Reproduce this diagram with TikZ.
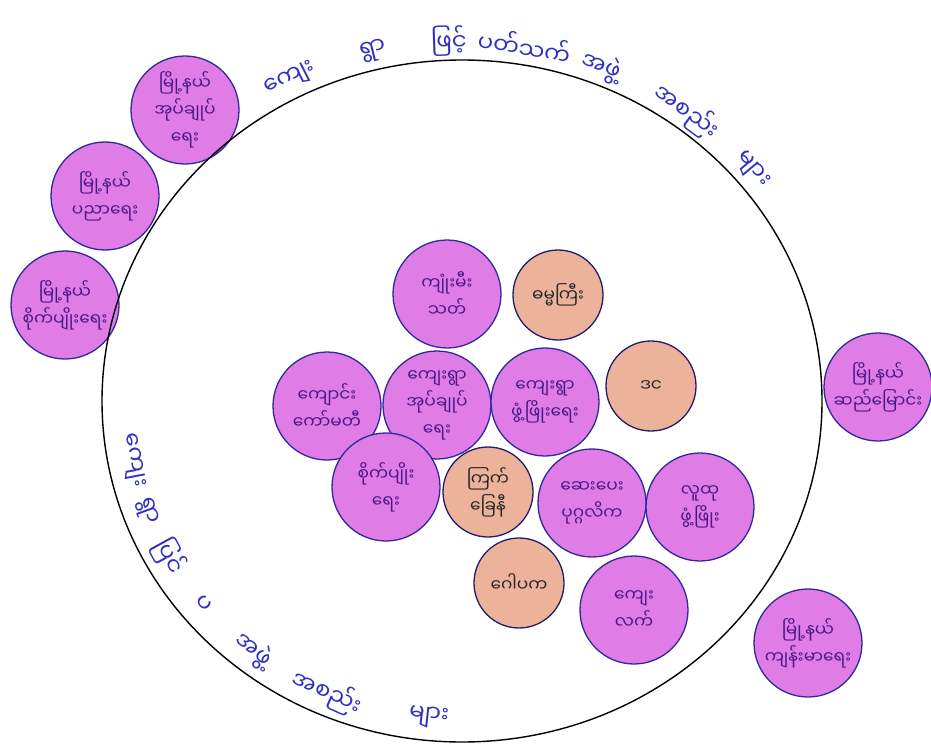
\documentclass[tikz,border=0pt]{standalone}
\usepackage{fontspec}
\usepackage{xcolor}
\usepackage{tikz}
\usetikzlibrary{
    shapes.geometric,
    positioning,
    calc
}
\newfontfamily\myan[Script=Myanmar]{Noto Sans Myanmar UI}
\definecolor{venpink}{HTML}{E07CE6}
\definecolor{venpeach}{HTML}{EDB39A}
\definecolor{venline}{HTML}{2E2A9C}
\definecolor{veninkp}{HTML}{4A1787}
\definecolor{venarc}{HTML}{3030C0}
\tikzset{
    % Organisation circle (pink marker)
    orgnode/.style={
        circle,
        draw=venline,
        line width=1.3pt,
        fill=#1,
        text=veninkp,
        font=\myan\fontsize{17}{27}\selectfont,
        minimum size=108pt,
        inner sep=0pt,
        align=center
    },
    orgnode/.default=venpink,
    % Small peach circle
    peachnode/.style={
        orgnode=venpeach,
        draw=venline!70!black,
        text=black!85,
        minimum size=90pt
    },
    % Word written along the big circle
    arcword/.style={
        font=\myan\fontsize{23}{26}\selectfont,
        text=venarc,
        inner sep=0pt
    }
}
\begin{document}
\begin{tikzpicture}[x=1pt, y=-1pt]

    \useasboundingbox (0,0) rectangle (931,746);

    % Township circles (outside)
    \node[orgnode] (twnadmin) at (185,110) {မြို့နယ်\\အုပ်ချုပ်\\ရေး};
    \node[orgnode] (twnedu) at (105,196) {မြို့နယ်\\ပညာရေး};
    \node[orgnode] (twnagri) at (65,305) {မြို့နယ်\\စိုက်ပျိုးရေး};
    \node[orgnode] (twnirrig) at (878,387) {မြို့နယ်\\ဆည်မြောင်း};
    \node[orgnode] (twnhealth) at (808,643) {မြို့နယ်\\ကျန်းမာရေး};

    % Village circles (inside)
    \node[orgnode] (fire) at (447,294) {ကျုံးမီး\\သတ်};
    \node[peachnode] (dhamma) at (558,295) {ဓမ္မကြီး};
    \node[orgnode] (schoolcom) at (327,406) {ကျောင်း\\ကော်မတီ};
    \node[orgnode] (vadmin) at (437,405) {ကျေးရွာ\\အုပ်ချုပ်\\ရေး};
    \node[orgnode] (vdev) at (545,402) {ကျေးရွာ\\ဖွံ့ဖြိုးရေး};
    \node[peachnode] (dinc) at (651,386) {ဒင};
    \node[orgnode] (agri) at (386,487) {စိုက်ပျိုး\\ရေး};
    \node[peachnode] (redcross) at (488,492) {ကြက်\\ခြေနီ};
    \node[orgnode] (clinic) at (592,503) {ဆေးပေး\\ပုဂ္ဂလိက};
    \node[orgnode] (commdev) at (700,507) {လူထု\\ဖွံ့ဖြိုး};
    \node[peachnode] (gopaka) at (519,583) {ဂေါပက};
    \node[orgnode] (rural) at (634,610) {ကျေး\\လက်};

    % Village boundary
    \draw[line width=1.4pt] (462,401) ellipse [x radius=360pt, y radius=341pt];

    % Upper arc words
    \node[arcword, rotate=26.9] (toparc1) at ({462+378*cos(116.9)},{401-360*sin(116.9)}) {ကျေး};
    \node[arcword, rotate=13.6] (toparc2) at ({462+378*cos(103.6)},{401-360*sin(103.6)}) {ရွာ};
    \node[arcword, rotate=2] (toparc3) at ({462+378*cos(92)},{401-360*sin(92)}) {ဖြင့်};
    \node[arcword, rotate=-9.5] (toparc4) at ({462+378*cos(80.5)},{401-360*sin(80.5)}) {ပတ်သက်};
    \node[arcword, rotate=-21.6] (toparc5) at ({462+378*cos(68.4)},{401-360*sin(68.4)}) {အဖွဲ့};
    \node[arcword, rotate=-36.5] (toparc6) at ({462+378*cos(53.5)},{401-360*sin(53.5)}) {အစည်း};
    \node[arcword, rotate=-50.1] (toparc7) at ({462+378*cos(39.9)},{401-360*sin(39.9)}) {များ};

    % Lower arc words
    \node[arcword, rotate=-79.2] (botarc1) at ({462+336*cos(190.8)},{401-318*sin(190.8)}) {ကျေး};
    \node[arcword, rotate=-70] (botarc2) at ({462+336*cos(200.3)},{401-318*sin(200.3)}) {ရွာ};
    \node[arcword, rotate=-61.2] (botarc3) at ({462+336*cos(209.3)},{401-318*sin(209.3)}) {ပြင်};
    \node[arcword, rotate=-50.4] (botarc4) at ({462+336*cos(219.6)},{401-318*sin(219.6)}) {ပ};
    \node[arcword, rotate=-38.5] (botarc5) at ({462+336*cos(231.5)},{401-318*sin(231.5)}) {အဖွဲ့};
    \node[arcword, rotate=-24.2] (botarc6) at ({462+336*cos(246.3)},{401-318*sin(246.3)}) {အစည်း};
    \node[arcword, rotate=-6.2] (botarc7) at ({462+336*cos(264.3)},{401-318*sin(264.3)}) {များ};

\end{tikzpicture}
\end{document}
